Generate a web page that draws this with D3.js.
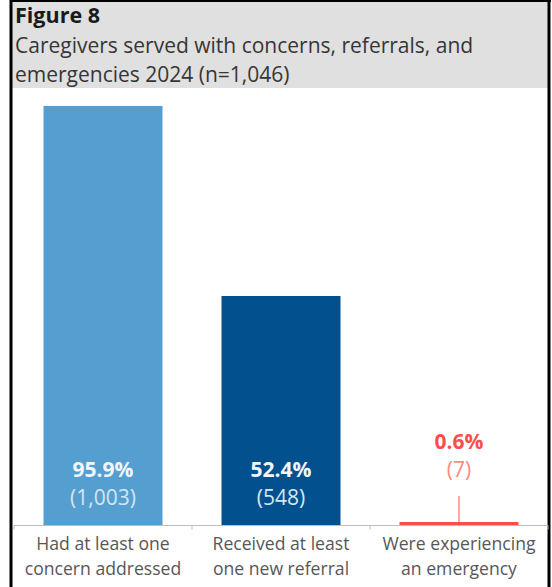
<!DOCTYPE html>
<html>
<head>
<meta charset="utf-8">
<script src="https://cdn.jsdelivr.net/npm/d3@7"></script>
<style>
  html, body { margin: 0; padding: 0; background: #fff; }
  svg { display: block; }
  text { font-family: "Open Sans", "Noto Sans", sans-serif; }
</style>
</head>
<body>
<svg id="chart" width="552" height="587"></svg>
<script>
// Chart content
const figureLabel = "Figure 8";
const titleLines = ["Caregivers served with concerns, referrals, and", "emergencies 2024 (n=1,046)"];
const categories = ["concern", "referral", "emergency"];
const categoryLines = [
  ["Had at least one", "concern addressed"],
  ["Received at least", "one new referral"],
  ["Were experiencing", "an emergency"]
];
const percents = [95.9, 52.4, 0.6];
const counts = ["1,003", "548", "7"];
const barColors = ["#559fd0", "#02508e", "#ff4d4d"];

const W = 552, H = 587;
const svg = d3.select("#chart");

// Frame and title band
svg.append("rect").attr("x", 0).attr("y", 0).attr("width", W).attr("height", H).attr("fill", "#fff");
svg.append("rect").attr("x", 12).attr("y", 2).attr("width", 536).attr("height", 86).attr("fill", "#e0e0e0");
svg.append("line").attr("x1", 11).attr("x2", 11).attr("y1", 0).attr("y2", H).attr("stroke", "#000").attr("stroke-width", 3);
svg.append("line").attr("x1", 549).attr("x2", 549).attr("y1", 0).attr("y2", H).attr("stroke", "#000").attr("stroke-width", 3);
svg.append("line").attr("x1", 10).attr("x2", 551).attr("y1", 1).attr("y2", 1).attr("stroke", "#000").attr("stroke-width", 2);

svg.append("text").attr("x", 15).attr("y", 23)
  .attr("font-size", 21.5).attr("font-weight", 700).attr("fill", "#1a1a1a")
  .text(figureLabel);
svg.selectAll("text.subtitle").data(titleLines).join("text")
  .attr("class", "subtitle")
  .attr("x", 15).attr("y", (d, i) => 53 + i * 28.7)
  .attr("font-size", 21).attr("fill", "#363636")
  .text(d => d);

// Scales
const x = d3.scaleBand().domain(categories).range([14, 548]).paddingInner(0).paddingOuter(0);
const y = d3.scaleLinear().domain([0, 100]).range([525, 88]);
const barW = 119;

// Bars
svg.selectAll("rect.bar").data(percents).join("rect")
  .attr("class", "bar")
  .attr("x", (d, i) => x(categories[i]) + (x.bandwidth() - barW) / 2)
  .attr("width", barW)
  .attr("y", d => Math.min(y(d), y(0) - 3))
  .attr("height", d => Math.max(3, y(0) - y(d)))
  .attr("fill", (d, i) => barColors[i]);

// Axis line with ticks at band edges
const axisG = svg.append("g").attr("transform", `translate(0,${y(0) + 0.5})`);
axisG.append("line").attr("x1", 14).attr("x2", 548).attr("stroke", "#bdbdbd").attr("stroke-width", 1.2);
const edges = categories.map(c => x(c)).concat([548]);
axisG.selectAll("line.tick").data(edges).join("line")
  .attr("class", "tick")
  .attr("x1", d => d).attr("x2", d => d).attr("y1", 0).attr("y2", 4)
  .attr("stroke", "#bdbdbd");

// Category labels
categoryLines.forEach((lines, i) => {
  svg.selectAll(null).data(lines).join("text")
    .attr("x", x(categories[i]) + x.bandwidth() / 2)
    .attr("y", (d, j) => 550 + j * 25)
    .attr("text-anchor", "middle")
    .attr("font-size", 17.6).attr("fill", "#575757")
    .text(d => d);
});

// Value labels: inside tall bars, above the short one with a leader line
percents.forEach((p, i) => {
  const cx = x(categories[i]) + x.bandwidth() / 2;
  const inside = p > 10;
  const baseY = inside ? 477 : 449;
  svg.append("text").attr("x", cx).attr("y", baseY)
    .attr("text-anchor", "middle").attr("font-size", 21).attr("font-weight", 700)
    .attr("fill", inside ? "#f2f6fa" : "#ff4d4d")
    .text(d3.format(".1f")(p) + "%");
  svg.append("text").attr("x", cx).attr("y", baseY + 28)
    .attr("text-anchor", "middle").attr("font-size", 21)
    .attr("fill", inside ? "#d6e5f2" : "#ff8a80")
    .text("(" + counts[i] + ")");
  if (!inside) {
    svg.append("line").attr("x1", cx).attr("x2", cx)
      .attr("y1", 496).attr("y2", Math.min(y(p), y(0) - 3))
      .attr("stroke", "#ff8a80").attr("stroke-width", 1.5);
  }
});
</script>
</body>
</html>
